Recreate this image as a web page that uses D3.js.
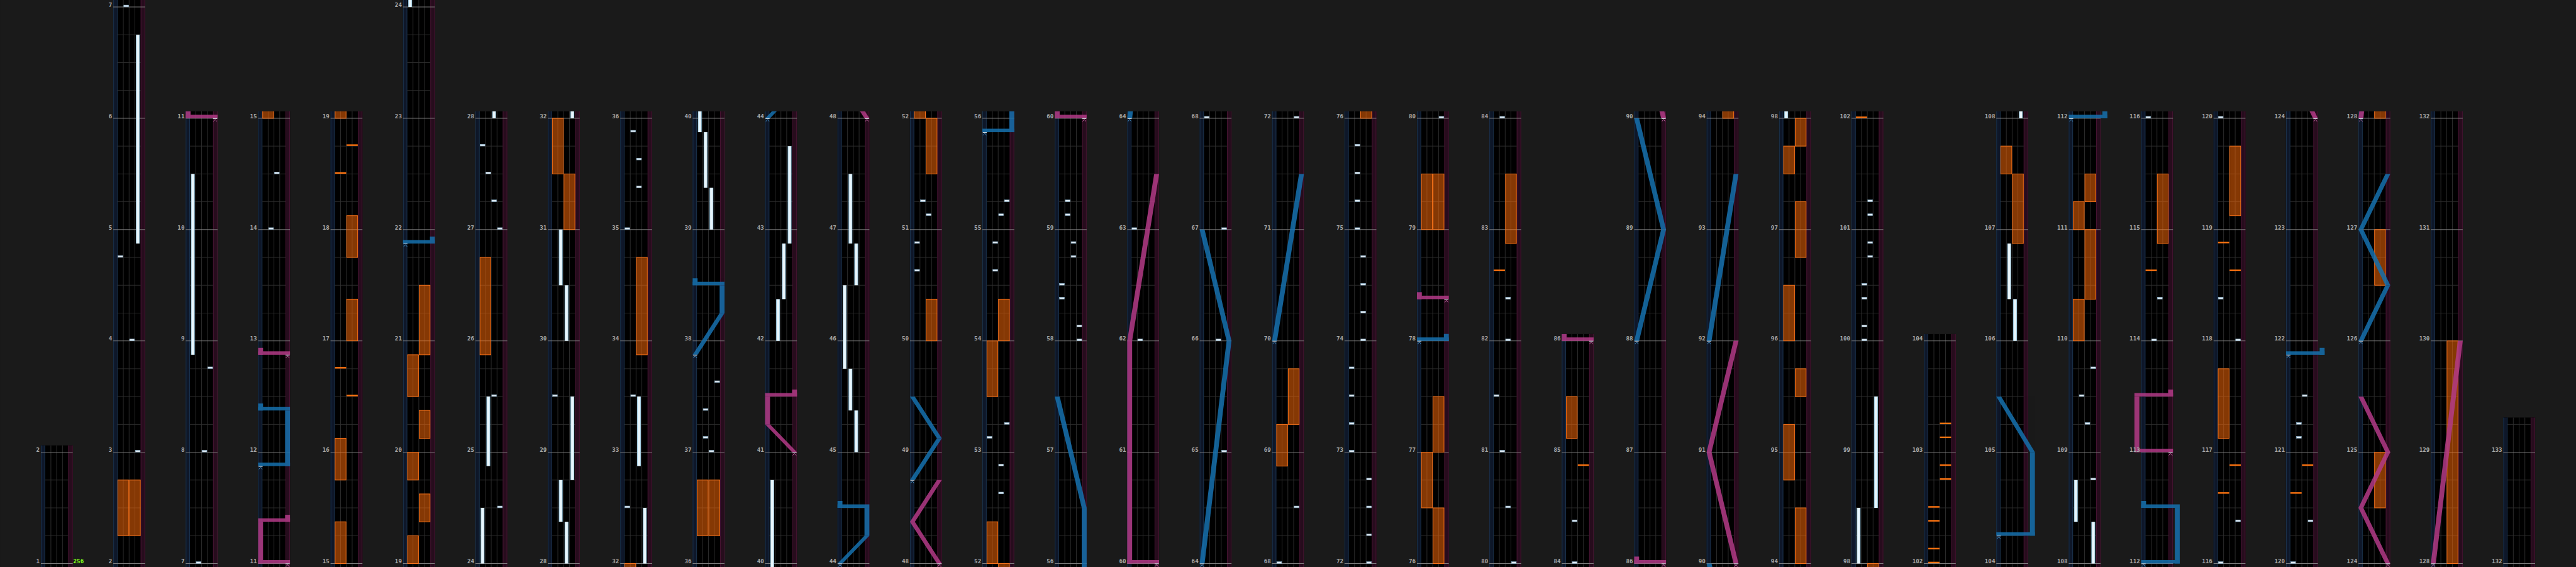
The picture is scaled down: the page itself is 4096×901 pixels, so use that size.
<!DOCTYPE html>
<html><head><meta charset="utf-8">
<script src="https://cdn.jsdelivr.net/npm/d3@7"></script>
<style>html,body{margin:0;padding:0;background:#1a1a1a;overflow:hidden}</style>
</head><body>
<svg id="chart" width="4096" height="901" viewBox="0 0 4445 978"></svg>
<script>
// ---------- DATA (measure positions) ----------
const columnStart  = [1,2,7,11,15,19,24,28,32,36,40,44,48,52,56,60,64,68,72,76,80,84,86,90,94,98,102,104,108,112,116,120,124,128,132];
const columnLength = [1,5,4,4,4,5,4,4,4,4,4,4,4,4,4,4,4,4,4,4,4,2,4,4,4,4,2,4,4,4,4,4,4,4,1.25];
const bpmLabels = [[1, "256"]];

// BT chips: [measure, lane 0-3]
const btChips = [
 [3,3],[4,2],[4.75,0],[7,1],[8,2],[8.75,3],[14,1],[14.5,2],
 [24.5,3],[25.5,2],[27,3],[27.25,2],[27.5,1],[27.75,0],[29.5,0],
 [32.5,0],[33.5,1],[35,0],[35.375,2],[35.625,2],[35.875,1],
 [37,2],[37.125,1],[37.375,1],[37.625,3],
 [50.625,0],[50.875,0],[51.125,2],[51.25,1],
 [52.625,2],[52.875,2],[53.125,0],[53.25,3],[54.625,1],[54.875,1],[55.125,2],[55.25,3],
 [58,3],[58.125,3],[58.375,0],[58.5,0],[58.75,2],[58.875,2],[59.125,1],[59.25,1],
 [62,1],[63,0],[65,3],[66,2],[67,3],[68,0],[68.5,3],[72,3],
 [72.25,3],[72.5,3],[72.75,3],[73,0],[73.25,0],[73.5,0],[73.75,0],[74,2],[74.25,2],[74.5,2],[74.75,2],
 [75,1],[75.25,1],[75.5,1],[75.75,1],[80,3],[80.5,2],[81,1],[81.5,0],[82,2],[82.375,2],[84,1],[84.375,1],
 [100,1],[100.125,1],[100.375,1],[100.5,1],[100.75,2],[100.875,2],[101.125,2],[101.25,2],
 [108.75,3],[109.25,2],[109.5,1],[109.75,3],[114,1],[114.375,2],[116,0],
 [116.375,3],[118,3],[118.375,0],[120,0],[120.375,3],[121.125,1],[121.25,1],[121.5,2]
];
// BT holds: [start, end, lane]
const btHolds = [
 [4.875,6.75,3],[8.875,10.5,0],[24,24.5,0],[24.875,25.5,1],[28,28.375,2],[28.375,28.75,1],[28.75,29.5,3],
 [30,30.5,2],[30.5,31,1],[32,32.5,3],[32.875,33.5,2],[39,39.375,2],[39.375,39.875,1],[39.875,40.75,0],
 [42,42.375,1],[42.375,42.875,2],[42.875,43.75,3],[45,45.375,2],[45.375,45.75,1],[45.75,46.5,0],
 [46.5,46.875,2],[46.875,47.5,1],[98,98.5,0],[98.5,99.5,3],[106,106.375,2],[106.375,106.875,1],
 [108,108.375,3],[108.375,108.75,0]
];
// FX holds: [start, end, side 0=L 1=R]
const fxHolds = [
 [2.25,2.75,0],[2.25,2.75,1],[15,15.375,0],[15.75,16.125,0],[17,17.375,1],[17.75,18.125,1],
 [19,19.25,0],[19.375,19.625,1],[19.75,20,0],[20.125,20.375,1],[20.5,20.875,0],[20.875,21.5,1],
 [25.875,26.75,0],[31,31.5,1],[31.5,32,0],[33.875,34.75,1],[36.25,36.75,0],[36.25,36.75,1],
 [50,50.375,1],[51.5,52,1],[52,52.375,0],[53.5,54,0],[54,54.375,1],[68.875,69.25,0],[69.25,69.75,1],
 [76,76.5,1],[76.5,77,0],[77,77.5,1],[79,79.5,0],[79,79.5,1],[82.875,83.5,1],[85.125,85.5,0],
 [94,94.5,1],[94.75,95.25,0],[95.5,95.75,1],[96,96.5,0],[96.75,97.25,1],[97.5,97.75,0],[97.75,98,1],
 [106.875,107.5,1],[107.5,107.75,0],[110,110.375,0],[110.375,111,1],[111,111.25,0],[111.25,111.5,1],
 [114.875,115.5,1],[117.125,117.75,0],[119.125,119.75,1],
 [124.5,125,1],[126.5,127,1],[128,130,1]
];
// FX chips: [measure, side]
const fxChips = [
 [16.5,1],[16.75,0],[18.5,0],[18.75,1],[82.625,0],[84.875,1],
 [102,0],[102.125,0],[102.375,0],[102.5,0],[102.75,1],[102.875,1],[103.125,1],[103.25,1],
 [114.625,0],[116.625,0],[116.875,1],[118.625,1],[118.875,0],[120.625,0],[120.875,1]
];
// Lasers: list of [measure, position] (0 = left edge, 1 = right edge)
const leftLasers = [
 [[11.875,0],[11.875,1],[12.375,1],[12.375,0]],
 [[21.875,0],[21.875,1]],
 [[37.875,0],[38.25,1],[38.5,1],[38.5,0]],
 [[44,0],[44.25,1],[44.5,1],[44.5,0]],
 [[48.75,0],[49.125,1],[49.5,0]],
 [[55.875,0],[55.875,1],[56.5,1],[57.5,0]],
 [[64,0],[66,1],[67,0]],
 [[70,0],[71.5,1]],
 [[78,0],[78,1]],
 [[88,0],[89,1],[90,0]],
 [[92,0],[93.5,1]],
 [[104.25,0],[104.25,1.25],[105,1.25],[105.5,0]],
 [[112,0],[112,1.25],[112.5,1.25],[112.5,0]],
 [[121.875,0],[121.875,1.25]],
 [[126,0],[126.5,1],[127,0],[127.5,1]]
];
const rightLasers = [
 [[11,1],[11,0],[11.375,0],[11.375,1]],
 [[12.875,1],[12.875,0]],
 [[41,1],[41.25,0],[41.5,0],[41.5,1]],
 [[48,1],[48.375,0],[48.75,1]],
 [[60,1],[60,0],[62,0],[63.5,1]],
 [[78.375,1],[78.375,0]],
 [[86,1],[86,0]],
 [[90,1],[91,0],[92,1]],
 [[113,1],[113,-0.25],[113.5,-0.25],[113.5,1]],
 [[124,1],[124.5,0],[125,1],[125.5,0]],
 [[128,0],[130,1]]
];

// ---------- DRAWING ----------
const svg = d3.select('#chart');
const BASE = 972, MPX = 192, OVER = 12, CW = 55;
const colX = d3.scaleLinear().domain([0,1]).range([70,195]);
const laneX = d3.scaleLinear().domain([0,4]).range([7.3,47.3]);
const laserX = d3.scaleLinear().domain([0,1]).range([4.25,50.75]);

const defs = svg.append('defs');
const g1 = defs.append('linearGradient').attr('id','holdGrad').attr('x1',0).attr('x2',1).attr('y1',0).attr('y2',0);
[[0,'#7fb3cf'],[0.28,'#e9f6fc'],[0.72,'#e9f6fc'],[1,'#7fb3cf']].forEach(([o,c])=>g1.append('stop').attr('offset',o).attr('stop-color',c));

svg.append('rect').attr('width',4445).attr('height',978).attr('fill','#1a1a1a');

const laserStyle = {left:{fill:'#1670ad', mark:'#4a9ad0'}, right:{fill:'#b23a86', mark:'#d070b0'}};

columnStart.forEach((s,i)=>{
  const len = columnLength[i];
  const x0 = colX(i);
  const y = d3.scaleLinear().domain([s, s+len]).range([BASE, BASE-len*MPX]);
  const top = y(s+len) - OVER, bot = BASE + OVER;
  const lo = s - OVER/MPX, hi = s + len + OVER/MPX;
  defs.append('clipPath').attr('id','clip'+i).append('rect')
    .attr('x',-30).attr('y',top).attr('width',CW+60).attr('height',bot-top);
  const g = svg.append('g').attr('transform',`translate(${x0},0)`);
  const gc = g.append('g').attr('clip-path',`url(#clip${i})`);
  // lanes background
  gc.append('rect').attr('x',0).attr('y',top).attr('width',CW).attr('height',bot-top).attr('fill','#000');
  gc.append('rect').attr('x',0).attr('y',top).attr('width',7.3).attr('height',bot-top).attr('fill','#0e1729');
  gc.append('rect').attr('x',47.3).attr('y',top).attr('width',7.7).attr('height',bot-top).attr('fill','#270c1d');
  [[0.6,'#1c3550'],[6.8,'#1c3550'],[47.8,'#4a1634'],[54.4,'#4a1634']].forEach(([lx,c])=>
    gc.append('line').attr('x1',lx).attr('x2',lx).attr('y1',top).attr('y2',bot).attr('stroke',c).attr('stroke-width',1));
  // lane dividers
  [1,2,3].forEach(k=>gc.append('line').attr('x1',laneX(k)).attr('x2',laneX(k)).attr('y1',top).attr('y2',bot)
    .attr('stroke','#303030').attr('stroke-width',1));
  // beat lines
  const beats = d3.range(Math.ceil((s-0.05)*4), Math.floor((s+len+0.05)*4)+1).map(q=>q/4).filter(q=>q%1!==0);
  gc.selectAll('.beat').data(beats).join('line').attr('x1',laneX(0)).attr('x2',laneX(4))
    .attr('y1',d=>y(d)).attr('y2',d=>y(d)).attr('stroke','#303030').attr('stroke-width',1);
  // measure lines + labels
  const measures = d3.range(Math.ceil(s), Math.floor(s+len+1e-6)+1);
  gc.selectAll('.meas').data(measures).join('line').attr('x1',0).attr('x2',CW)
    .attr('y1',d=>y(d)).attr('y2',d=>y(d)).attr('stroke','#8a8a8a').attr('stroke-width',1);
  g.selectAll('.lab').data(measures).join('text').attr('x',-2).attr('y',d=>y(d)-0.3)
    .attr('text-anchor','end').attr('fill','#a8a8a8').attr('font-family','DejaVu Sans Mono')
    .attr('font-weight','bold').attr('font-size',10).text(d=>d);
  bpmLabels.filter(b=>b[0]>=s && b[0]<s+len).forEach(b=>{
    g.append('text').attr('x',CW+1).attr('y',y(b[0])-0.3).attr('fill','#80ff1c')
     .attr('font-family','DejaVu Sans Mono').attr('font-weight','bold').attr('font-size',10).text(b[1]);
  });
  // FX holds
  gc.selectAll('.fxh').data(fxHolds.filter(d=>d[1]>=lo && d[0]<=hi)).join('rect')
    .attr('x',d=>laneX(d[2]*2)+0.6).attr('width',laneX(2)-laneX(0)-1.2)
    .attr('y',d=>y(d[1])).attr('height',d=>y(d[0])-y(d[1]))
    .attr('fill','rgba(255,108,8,0.52)').attr('stroke','#ff7418').attr('stroke-width',1);
  // BT holds
  gc.selectAll('.bth').data(btHolds.filter(d=>d[1]>=lo && d[0]<=hi)).join('rect')
    .attr('x',d=>laneX(d[2])+1.7).attr('width',6.6)
    .attr('y',d=>y(d[1])).attr('height',d=>y(d[0])-y(d[1]))
    .attr('fill','url(#holdGrad)');
  // FX chips
  gc.selectAll('.fxc').data(fxChips.filter(d=>d[0]>=lo && d[0]<=hi)).join('rect')
    .attr('x',d=>laneX(d[1]*2)+0.3).attr('width',laneX(2)-laneX(0)-0.6)
    .attr('y',d=>y(d[0])-3).attr('height',2.6).attr('fill','#ff7410');
  // BT chips
  gc.selectAll('.btc').data(btChips.filter(d=>d[0]>=lo && d[0]<=hi)).join('rect')
    .attr('x',d=>laneX(d[1])+0.8).attr('width',8.4)
    .attr('y',d=>y(d[0])-3.2).attr('height',3).attr('fill','#e4edf5').attr('stroke','#86aec8').attr('stroke-width',0.7);
  // lasers
  const drawLaser = (pts, st) => {
    if (pts[pts.length-1][0] < lo || pts[0][0] > hi) return;
    const lg = gc.append('g').attr('opacity',0.86);
    const hw = 4.25;
    for (let k=0;k<pts.length-1;k++){
      const a=pts[k], b=pts[k+1];
      const xa=laserX(a[1]), xb=laserX(b[1]);
      if (a[0]===b[0]) {
        const ya=y(a[0]);
        lg.append('rect').attr('x',Math.min(xa,xb)-hw).attr('width',Math.abs(xb-xa)+2*hw)
          .attr('y',ya-6).attr('height',6).attr('fill',st.fill);
        if (k===pts.length-2) lg.append('rect').attr('x',xb-hw).attr('width',2*hw).attr('y',ya-12).attr('height',12).attr('fill',st.fill);
      } else {
        const ya=y(a[0]), yb=y(b[0]);
        lg.append('path').attr('d',`M${xa-hw},${ya}L${xa+hw},${ya}L${xb+hw},${yb}L${xb-hw},${yb}Z`).attr('fill',st.fill);
      }
    }
    const p=pts[0], xs=laserX(p[1]), ys=y(p[0]);
    gc.append('line').attr('x1',xs-3.5).attr('x2',xs+3.5).attr('y1',ys+0.5).attr('y2',ys+0.5).attr('stroke','#dde8f0').attr('stroke-width',1);
    gc.append('path').attr('d',`M${xs-3},${ys+5.5}L${xs},${ys+2}L${xs+3},${ys+5.5}`).attr('fill','none').attr('stroke',st.mark).attr('stroke-width',1);
  };
  leftLasers.forEach(p=>drawLaser(p, laserStyle.left));
  rightLasers.forEach(p=>drawLaser(p, laserStyle.right));
});
</script>
</body></html>
